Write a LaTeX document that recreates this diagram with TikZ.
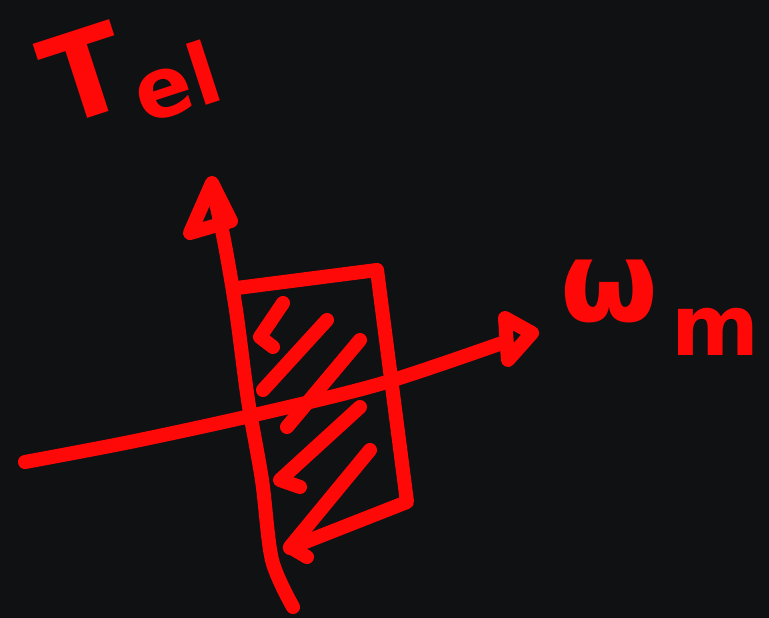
\documentclass[tikz,border=0pt]{standalone}
\usepackage{fontspec}
\newfontfamily\hand{DejaVu Sans Bold}
\definecolor{bg}{RGB}{16,17,19}
\definecolor{penred}{RGB}{255,8,8}
\begin{document}
\begin{tikzpicture}[x=0.01cm,y=-0.01cm,
  stroke/.style={draw=penred, line width=4pt, line cap=round, line join=round},
  label/.style={text=penred, inner sep=0pt, font=\hand}]
\fill[bg] (0,0) rectangle (769,618);
\useasboundingbox (0,0) rectangle (769,618);
% vertical axis (T_el)
\draw[stroke] plot[smooth] coordinates {(293,607) (272,560) (262,480) (248,400) (236,310) (224,240) (212,185)};
\draw[stroke] (212,183) -- (190,233) -- (231,221) -- cycle;
% horizontal axis (omega_m)
\draw[stroke] plot[smooth] coordinates {(25,462) (130,442) (250,416) (380,384) (505,342)};
\draw[stroke] (505,318) -- (532,333) -- (508,360) -- cycle;
% operating region box
\draw[stroke] (237,288) -- (377,270) -- (407,502) -- (290,548);
% hatching
\draw[stroke] (283,303) -- (260,337) -- (273,347);
\draw[stroke] (327,320) -- (263,390);
\draw[stroke] (360,340) -- (287,427);
\draw[stroke] (360,407) -- (280,480) -- (300,487);
\draw[stroke] (370,450) -- (290,547) -- (307,557);
% labels
\node[label, rotate=18] (tel) at (130,72) {\fontsize{34}{34}\selectfont T\raisebox{-0.2em}{\fontsize{24}{24}\selectfont el}};
\node[label] (wm) at (660,308) {\fontsize{32}{32}\selectfont ω\hspace{0.12em}\raisebox{-0.3em}{\fontsize{24}{24}\selectfont m}};
\end{tikzpicture}
\end{document}
